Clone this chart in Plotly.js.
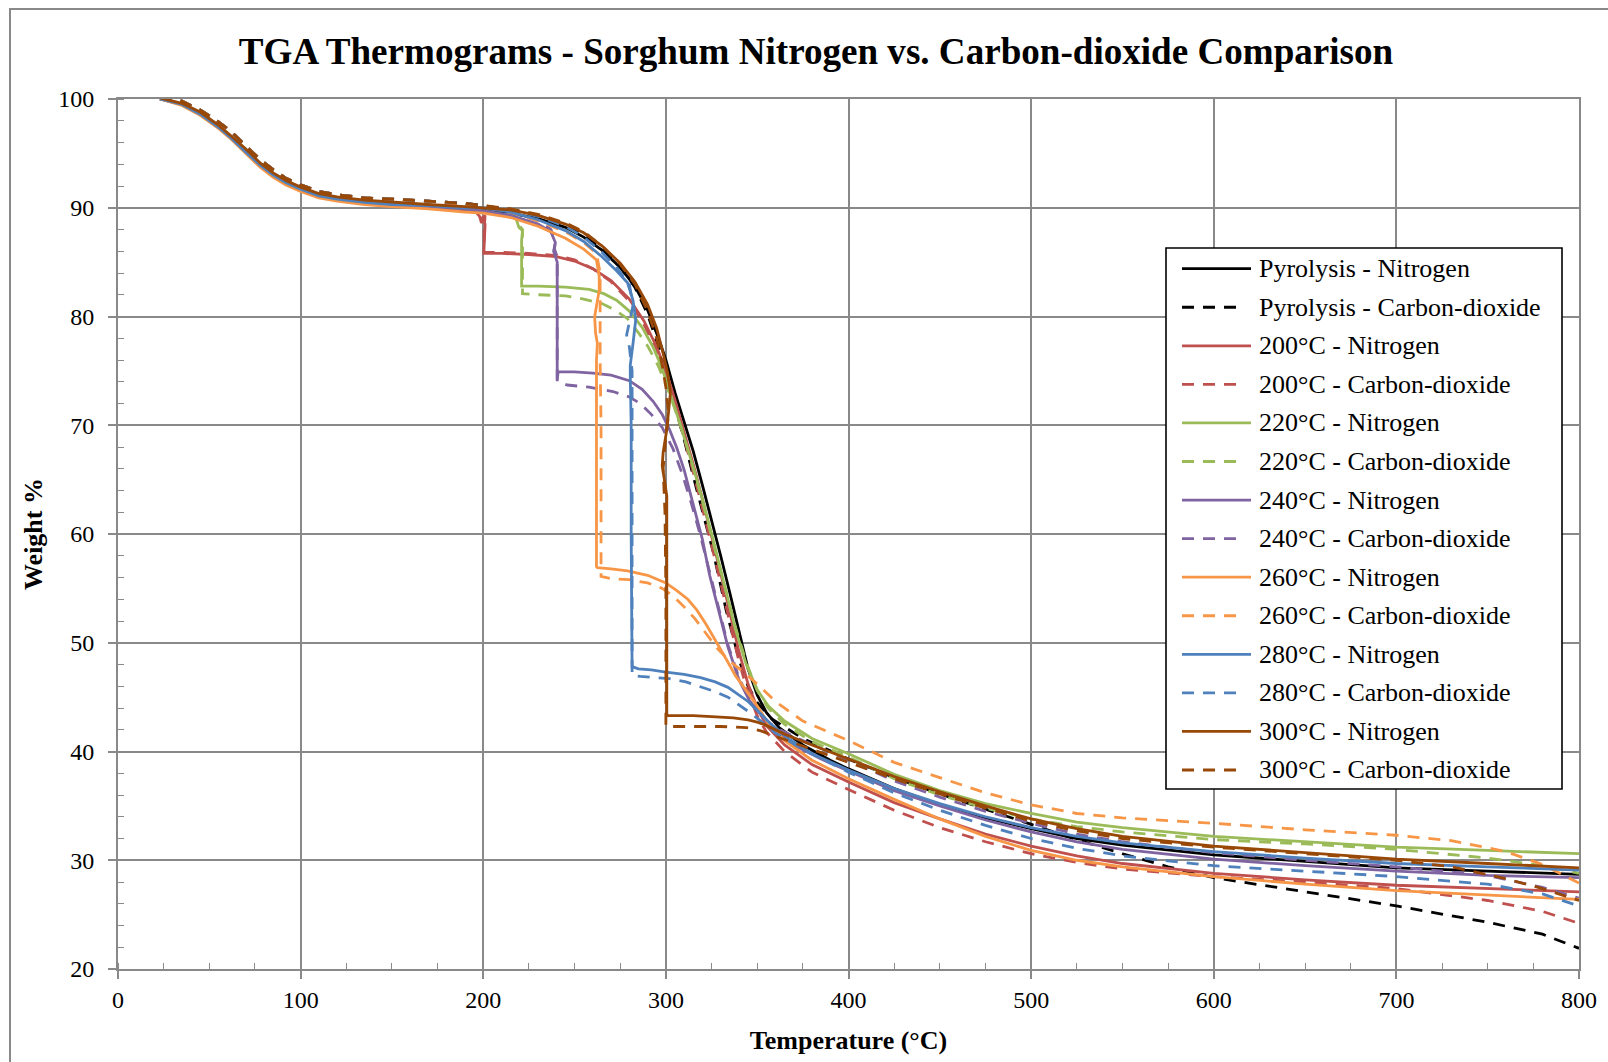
<!DOCTYPE html>
<html>
<head>
<meta charset="utf-8">
<script src="https://cdn.plot.ly/plotly-3.0.1.min.js"></script>
<style>
  html, body { margin: 0; padding: 0; background: #ffffff; }
  #chart { width: 1608px; height: 1062px; }
</style>
</head>
<body>
<div id="chart"></div>
<script>
// TGA thermograms: temperature (°C) against remaining weight (%)
// Solid = nitrogen atmosphere, dashed = carbon-dioxide atmosphere.

const seriesNames = [
  "Pyrolysis - Nitrogen", "Pyrolysis - Carbon-dioxide",
  "200°C - Nitrogen", "200°C - Carbon-dioxide",
  "220°C - Nitrogen", "220°C - Carbon-dioxide",
  "240°C - Nitrogen", "240°C - Carbon-dioxide",
  "260°C - Nitrogen", "260°C - Carbon-dioxide",
  "280°C - Nitrogen", "280°C - Carbon-dioxide",
  "300°C - Nitrogen", "300°C - Carbon-dioxide"
];

const seriesColors = [
  "#000000", "#000000",
  "#C0504D", "#C0504D",
  "#9BBB59", "#9BBB59",
  "#8064A2", "#8064A2",
  "#F79646", "#F79646",
  "#4F81BD", "#4F81BD",
  "#984807", "#984807"
];

const seriesDashed = [false, true, false, true, false, true, false, true, false, true, false, true, false, true];

// Pyrolysis - Nitrogen
const pyroN2 = [[23,100.0],[35,99.5],[45,98.6],[55,97.4],[62,96.4],[70,95.1],[78,93.9],[85,93.0],[92,92.3],[100,91.7],[110,91.1],[120,90.8],[135,90.5],[150,90.3],[170,90.1],[190,89.9],
  [200,89.8],[215,89.5],[230,89.0],[245,88.2],[255,87.3],[265,86.1],[275,84.5],[283,82.8],[290,80.6],[296,78.0],[300,76.0],[305,73.0],[310,70.3],[315,67.6],[320,64.5],[325,61.3],[330,58.0],[335,54.6],[340,51.0],[345,47.6],[350,45.2],[355,43.6],[362,42.2],[375,40.6],[390,39.2],[400,38.4],[425,36.6],[450,35.1],[475,33.9],[500,32.9],[525,32.0],[550,31.4],[600,30.5],[650,29.9],[700,29.3],[750,29.0],[800,28.7]];

// Pyrolysis - Carbon-dioxide
const pyroCO2 = [[23,100.3],[35,99.8],[45,99.0],[55,97.9],[62,97.0],[70,95.7],[78,94.4],[85,93.5],[92,92.7],[100,92.1],[110,91.5],[120,91.2],[135,90.9],[150,90.8],[170,90.6],[190,90.4],
  [200,90.2],[215,89.8],[230,89.2],[245,88.4],[255,87.5],[265,86.3],[275,84.6],[283,82.7],[290,80.2],[296,77.2],[300,74.8],[305,71.8],[310,68.7],[315,65.3],[320,62.0],[326,58.3],[333,53.0],[340,48.5],[345,46.0],[350,44.5],[358,43.0],[375,41.2],[400,39.3],[425,37.6],[450,36.1],[475,34.7],[500,33.3],[525,31.9],[550,30.6],[575,29.4],[600,28.4],[650,27.1],[700,25.8],[750,24.3],[780,23.2],[800,21.9]];

// 200°C - Nitrogen
const t200N2 = [[23,100.0],[35,99.5],[45,98.6],[55,97.4],[62,96.4],[70,95.1],[78,93.9],[85,93.0],[92,92.3],[100,91.7],[110,91.1],[120,90.8],[135,90.5],[150,90.3],[170,90.1],[190,89.8],
  [196,89.6],[198,89.2],[199,88.6],[200.5,89.0],[201,88.4],[200.5,87.0],[200.3,85.8],[210,85.8],[225,85.7],[240,85.5],[250,85.1],[260,84.4],[270,83.3],[280,81.6],[288,79.6],[295,77.2],[300,75.0],[305,72.3],[310,69.4],[315,66.4],[320,63.2],[325,59.9],[330,56.4],[335,52.8],[340,49.2],[345,46.2],[350,44.0],[355,42.4],[365,40.6],[380,38.8],[400,37.2],[425,35.3],[450,33.8],[475,32.4],[500,31.3],[525,30.4],[550,29.7],[600,28.8],[650,28.2],[700,27.7],[750,27.4],[800,27.1]];

// 200°C - Carbon-dioxide
const t200CO2 = [[23,100.3],[35,99.8],[45,99.0],[55,97.9],[62,97.0],[70,95.7],[78,94.4],[85,93.5],[92,92.7],[100,92.1],[110,91.5],[120,91.2],[135,90.9],[150,90.8],[170,90.6],[190,90.3],
  [196,90.0],[198,89.5],[199.5,89.0],[201,89.3],[200.5,88.0],[200.5,85.9],[210,85.9],[225,85.8],[240,85.6],[250,85.2],[260,84.4],[270,83.2],[280,81.4],[288,79.3],[295,76.8],[300,74.6],[305,71.8],[310,68.8],[315,65.7],[320,62.4],[325,59.0],[330,55.5],[335,51.8],[340,48.3],[345,45.4],[350,43.3],[355,41.8],[365,40.0],[380,38.1],[400,36.5],[425,34.6],[450,33.0],[475,31.7],[500,30.6],[525,29.8],[550,29.2],[600,28.5],[650,28.0],[700,27.4],[750,26.3],[780,25.3],[800,24.2]];

// 220°C - Nitrogen
const t220N2 = [[23,100.0],[35,99.5],[45,98.6],[55,97.4],[62,96.4],[70,95.1],[78,93.9],[85,93.0],[92,92.3],[100,91.7],[110,91.1],[120,90.8],[135,90.5],[150,90.3],[170,90.1],[190,89.9],
  [200,89.7],[210,89.4],[218,89.0],[219.5,88.2],[221.5,87.9],[221,87.0],[221,82.8],[230,82.8],[245,82.7],[258,82.5],[266,82.1],[273,81.5],[280,80.5],[287,79.0],[293,77.2],[298,75.2],[303,72.7],[308,70.0],[314,66.7],[320,63.2],[326,59.4],[332,55.4],[338,51.3],[344,48.0],[350,45.7],[356,44.2],[365,42.8],[380,41.2],[400,39.8],[425,37.9],[450,36.4],[475,35.2],[500,34.3],[525,33.5],[550,33.0],[600,32.2],[650,31.7],[700,31.2],[750,30.9],[800,30.6]];

// 220°C - Carbon-dioxide
const t220CO2 = [[23,100.3],[35,99.8],[45,99.0],[55,97.9],[62,97.0],[70,95.7],[78,94.4],[85,93.5],[92,92.7],[100,92.1],[110,91.5],[120,91.2],[135,90.9],[150,90.8],[170,90.6],[190,90.4],
  [200,90.1],[210,89.8],[218,89.2],[220,88.3],[221.5,88.0],[221.5,86.5],[221.5,82.1],[230,82.0],[245,81.9],[255,81.6],[265,81.2],[272,80.6],[279,79.8],[285,78.5],[290,77.3],[296,75.4],[302,72.9],[308,70.0],[314,66.7],[320,63.0],[326,59.2],[332,55.3],[338,51.5],[344,48.2],[350,45.6],[356,44.0],[365,42.5],[380,40.9],[400,39.5],[425,37.5],[450,36.0],[475,34.8],[500,33.8],[525,33.1],[550,32.6],[600,31.9],[650,31.5],[700,31.0],[750,30.2],[780,29.5],[800,28.8]];

// 240°C - Nitrogen
const t240N2 = [[23,100.0],[35,99.5],[45,98.6],[55,97.4],[62,96.4],[70,95.1],[78,93.9],[85,93.0],[92,92.3],[100,91.7],[110,91.1],[120,90.8],[135,90.5],[150,90.3],[170,90.1],[190,89.9],
  [200,89.7],[215,89.3],[230,88.5],[237,87.8],[239.5,86.8],[238.5,86.0],[240.5,85.0],[240.5,80.0],[240.5,74.2],[241,74.9],[250,74.9],[260,74.8],[270,74.6],[280,74.1],[287,73.3],[293,72.2],[298,71.0],[302,69.6],[306,67.9],[310,65.9],[315,62.8],[320,59.5],[324,56.2],[329,52.8],[334,49.6],[340,46.6],[346,44.6],[352,43.4],[358,42.2],[370,40.6],[385,39.3],[400,38.2],[425,36.4],[450,35.0],[475,33.7],[500,32.6],[525,31.7],[550,31.0],[600,30.1],[650,29.5],[700,29.0],[750,28.6],[800,28.4]];

// 240°C - Carbon-dioxide
const t240CO2 = [[23,100.3],[35,99.8],[45,99.0],[55,97.9],[62,97.0],[70,95.7],[78,94.4],[85,93.5],[92,92.7],[100,92.1],[110,91.5],[120,91.2],[135,90.9],[150,90.8],[170,90.6],[190,90.4],
  [200,90.1],[215,89.6],[230,88.8],[237,88.0],[239.5,87.0],[239,86.2],[240.5,85.5],[240.5,80.0],[240.5,74.0],[246,73.7],[258,73.5],[271,73.1],[280,72.6],[286,72.0],[292,71.0],[298,69.8],[304,67.8],[309,65.5],[314,62.8],[319,59.8],[324,56.5],[329,53.0],[334,49.8],[340,46.8],[346,44.6],[352,43.3],[360,42.2],[375,41.0],[400,39.2],[425,37.3],[450,35.8],[475,34.5],[500,33.4],[525,32.4],[550,31.7],[600,30.7],[650,30.0],[700,29.4],[750,28.6],[780,27.5],[800,26.5]];

// 260°C - Nitrogen
const t260N2 = [[23,100.0],[35,99.4],[45,98.5],[55,97.3],[62,96.3],[70,95.0],[78,93.7],[85,92.8],[92,92.1],[100,91.5],[110,90.9],[120,90.6],[135,90.3],[150,90.1],[170,89.9],[190,89.6],
  [200,89.5],[215,89.1],[230,88.3],[245,87.2],[255,86.2],[262,85.2],[263.5,83.7],[263.5,82.4],[262,81.0],[261,80.0],[261.5,78.5],[262.5,77.5],[262,76.0],[262,57.0],[262.5,56.9],[270,56.8],[279,56.6],[290,56.2],[300,55.5],[306,54.8],[312,54.0],[317,53.0],[322,51.7],[328,50.0],[333,48.5],[338,47.0],[344,45.6],[350,44.2],[356,42.6],[365,41.0],[380,39.2],[400,37.5],[425,35.6],[450,33.8],[475,32.2],[500,30.9],[525,30.0],[550,29.4],[600,28.5],[650,27.8],[700,27.2],[750,26.8],[800,26.4]];

// 260°C - Carbon-dioxide
const t260CO2 = [[23,100.3],[35,99.8],[45,99.0],[55,97.9],[62,97.0],[70,95.7],[78,94.4],[85,93.5],[92,92.7],[100,92.1],[110,91.5],[120,91.2],[135,90.9],[150,90.8],[170,90.6],[190,90.3],
  [200,90.0],[215,89.6],[230,88.8],[245,87.8],[255,86.8],[262,85.8],[264,84.0],[264,79.0],[264,76.0],[264.5,70.0],[264.5,56.1],[270,55.9],[280,55.8],[290,55.5],[298,55.0],[304,54.3],[310,53.3],[316,52.2],[322,50.9],[328,49.5],[335,48.3],[344,47.1],[352,45.9],[360,44.6],[375,42.8],[400,41.0],[425,39.0],[450,37.6],[475,36.2],[500,35.1],[525,34.3],[550,33.9],[600,33.4],[650,32.8],[700,32.3],[730,31.8],[760,30.8],[780,29.6],[800,27.9]];

// 280°C - Nitrogen
const t280N2 = [[23,100.0],[35,99.5],[45,98.6],[55,97.4],[62,96.4],[70,95.1],[78,93.9],[85,93.0],[92,92.3],[100,91.7],[110,91.1],[120,90.8],[135,90.5],[150,90.3],[170,90.2],[190,90.0],
  [200,90.0],[215,89.6],[230,88.9],[245,87.9],[255,86.9],[265,85.5],[273,84.2],[279,83.1],[282,81.5],[283.5,79.7],[282,77.5],[280.5,75.5],[280.5,74.5],[281,70.0],[281,60.0],[281.5,47.8],[285,47.6],[292,47.5],[300,47.3],[310,47.1],[319,46.8],[327,46.4],[334,45.9],[340,45.2],[345,44.6],[350,43.8],[357,42.6],[367,41.2],[380,39.8],[400,38.3],[425,36.6],[450,35.2],[475,34.0],[500,33.0],[525,32.2],[550,31.6],[600,30.8],[650,30.2],[700,29.7],[750,29.4],[800,29.1]];

// 280°C - Carbon-dioxide
const t280CO2 = [[23,100.3],[35,99.8],[45,99.0],[55,97.9],[62,97.0],[70,95.7],[78,94.4],[85,93.5],[92,92.7],[100,92.1],[110,91.5],[120,91.2],[135,90.9],[150,90.8],[170,90.6],[190,90.4],
  [200,90.2],[215,89.8],[230,89.2],[245,88.3],[255,87.3],[265,85.9],[273,84.5],[280,83.0],[282,81.0],[280,79.5],[278.5,78.3],[280,77.2],[281.5,75.0],[281.5,60.0],[281.5,47.0],[286,46.9],[295,46.8],[302,46.7],[311,46.4],[320,45.9],[327,45.5],[334,45.0],[340,44.3],[345,43.7],[352,42.8],[360,41.7],[375,40.2],[400,38.1],[425,36.2],[450,34.6],[475,33.2],[500,32.0],[525,31.1],[550,30.4],[600,29.5],[650,29.0],[700,28.5],[750,27.8],[780,26.9],[800,25.8]];

// 300°C - Nitrogen
const t300N2 = [[23,100.1],[35,99.6],[45,98.8],[55,97.6],[62,96.6],[70,95.4],[78,94.1],[85,93.2],[92,92.5],[100,91.9],[110,91.3],[120,91.0],[135,90.7],[150,90.5],[170,90.3],[190,90.1],
  [200,90.0],[215,89.8],[230,89.3],[245,88.5],[255,87.7],[265,86.5],[275,84.9],[283,83.2],[290,81.1],[295,78.9],[298.5,76.6],[301,74.8],[302.5,73.0],[301.5,71.0],[300.5,69.6],[298.5,67.5],[298,66.3],[300.5,63.5],[300.5,61.9],[300.5,50.0],[300.5,43.3],[305,43.3],[315,43.3],[325,43.2],[337,43.1],[345,42.9],[350,42.7],[355,42.4],[365,41.6],[380,40.6],[400,39.3],[425,37.7],[450,36.3],[475,35.0],[500,33.8],[525,32.9],[550,32.2],[600,31.3],[650,30.7],[700,30.1],[750,29.7],[800,29.3]];

// 300°C - Carbon-dioxide
const t300CO2 = [[23,100.3],[35,99.8],[45,99.0],[55,97.9],[62,97.0],[70,95.7],[78,94.4],[85,93.5],[92,92.7],[100,92.1],[110,91.5],[120,91.2],[135,90.9],[150,90.8],[170,90.6],[190,90.4],
  [200,90.2],[215,89.9],[230,89.4],[245,88.6],[255,87.8],[265,86.5],[275,84.8],[283,83.0],[290,80.5],[295,78.0],[298,75.5],[300,73.5],[301.5,71.0],[300,69.0],[298.5,66.0],[299.5,62.0],[300,55.0],[300,42.3],[305,42.3],[319,42.3],[330,42.3],[344,42.2],[352,41.9],[360,41.4],[375,40.5],[400,39.0],[425,37.5],[450,36.1],[475,34.8],[500,33.6],[525,32.7],[550,32.0],[600,31.2],[650,30.6],[700,30.0],[730,29.4],[760,28.3],[780,27.4],[800,26.3]];

const seriesData = [pyroN2, pyroCO2, t200N2, t200CO2, t220N2, t220CO2, t240N2, t240CO2, t260N2, t260CO2, t280N2, t280CO2, t300N2, t300CO2];

const xTickVals = [0, 100, 200, 300, 400, 500, 600, 700, 800];
const yTickVals = [20, 30, 40, 50, 60, 70, 80, 90, 100];

// ---- layout geometry (pixels) ----
const W = 1608, H = 1062;
const PL = 118, PR = 1579, PT = 99, PB = 969;
const px2x = p => (p - PL) / (PR - PL);
const px2y = p => (PB - p) / (PB - PT);

const GRID = "#898989";
const SERIF = "Liberation Serif, Times New Roman, serif";
const DASH = "12px,9px";

const traces = seriesData.map((pts, i) => ({
  type: "scatter",
  mode: "lines",
  name: seriesNames[i],
  x: pts.map(p => p[0]),
  y: pts.map(p => p[1]),
  line: { color: seriesColors[i], width: 2.8, dash: seriesDashed[i] ? DASH : "solid" },
  hoverinfo: "x+y+name",
  showlegend: false
}));

// Legend drawn as a framed box of line samples and labels
const LEG = { x0: 1166, x1: 1562, y0: 248, y1: 789, row0: 268.7, step: 38.56, lineX0: 1182, lineX1: 1251, dashX1: 1240, textX: 1257 };

const shapes = [
  // outer chart frame
  { type: "rect", xref: "paper", yref: "paper",
    x0: px2x(10), x1: px2x(1640), y0: px2y(1100), y1: px2y(9),
    line: { color: GRID, width: 2 }, fillcolor: "rgba(0,0,0,0)", layer: "below" },
  // legend box
  { type: "rect", xref: "paper", yref: "paper",
    x0: px2x(LEG.x0), x1: px2x(LEG.x1), y0: px2y(LEG.y1), y1: px2y(LEG.y0),
    line: { color: "#000000", width: 1.6 }, fillcolor: "#ffffff", layer: "above" }
];
const annotations = [];

seriesNames.forEach((name, i) => {
  const yc = LEG.row0 + i * LEG.step;
  shapes.push({
    type: "line", xref: "paper", yref: "paper",
    x0: px2x(LEG.lineX0), x1: px2x(seriesDashed[i] ? LEG.dashX1 : LEG.lineX1),
    y0: px2y(yc), y1: px2y(yc),
    line: { color: seriesColors[i], width: 2.8, dash: seriesDashed[i] ? DASH : "solid" },
    layer: "above"
  });
  annotations.push({
    xref: "paper", yref: "paper", x: px2x(LEG.textX), y: px2y(yc),
    xanchor: "left", yanchor: "middle", showarrow: false,
    text: name, font: { family: SERIF, size: 26, color: "#000000" }
  });
});

const layout = {
  width: W, height: H,
  margin: { l: PL, r: W - PR, t: PT, b: H - PB, pad: 0 },
  paper_bgcolor: "#ffffff",
  plot_bgcolor: "#ffffff",
  showlegend: false,
  title: {
    text: "<b>TGA Thermograms - Sorghum Nitrogen vs. Carbon-dioxide Comparison</b>",
    font: { family: SERIF, size: 37.1, color: "#000000" },
    xref: "container", x: 816 / W, xanchor: "center",
    yref: "container", y: 1 - 51 / H, yanchor: "middle"
  },
  xaxis: {
    range: [0, 800], tickvals: xTickVals, ticktext: xTickVals.map(String),
    showgrid: true, gridcolor: GRID, gridwidth: 1.6,
    showline: true, linecolor: GRID, linewidth: 2, mirror: true,
    zeroline: false,
    ticks: "outside", ticklen: 8, tickwidth: 1.6, tickcolor: GRID,
    minor: { dtick: 25, ticks: "inside", ticklen: 6, tickwidth: 1.4, tickcolor: GRID, showgrid: false },
    tickfont: { family: SERIF, size: 24, color: "#000000" },
    ticklabelstandoff: 0,
    title: { text: "<b>Temperature (°C)</b>", font: { family: SERIF, size: 26, color: "#000000" }, standoff: 19 },
    fixedrange: true
  },
  yaxis: {
    range: [20, 100], tickvals: yTickVals, ticktext: yTickVals.map(String),
    showgrid: true, gridcolor: GRID, gridwidth: 1.6,
    showline: true, linecolor: GRID, linewidth: 2, mirror: true,
    zeroline: false,
    ticks: "outside", ticklen: 8, tickwidth: 1.6, tickcolor: GRID,
    minor: { dtick: 2, ticks: "inside", ticklen: 6, tickwidth: 1.4, tickcolor: GRID, showgrid: false },
    tickfont: { family: SERIF, size: 24, color: "#000000" },
    ticklabelstandoff: 9,
    title: { text: "<b>Weight %</b>", font: { family: SERIF, size: 26, color: "#000000" }, standoff: 8 },
    fixedrange: true
  },
  shapes: shapes,
  annotations: annotations
};

Plotly.newPlot("chart", traces, layout, { displayModeBar: false, staticPlot: false, responsive: false });
</script>
</body>
</html>
